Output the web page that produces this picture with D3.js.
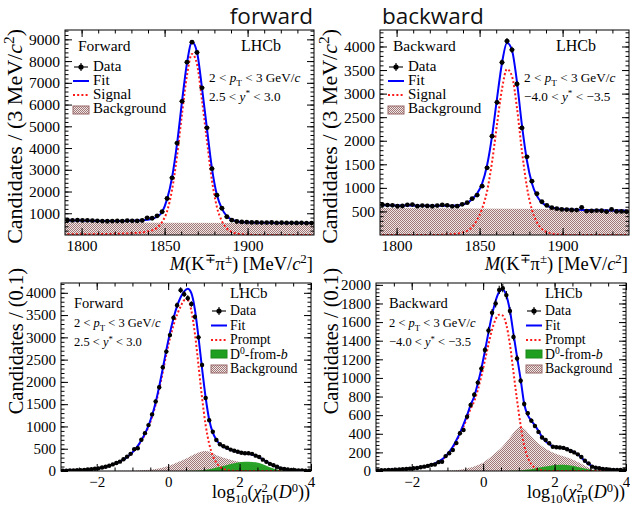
<!DOCTYPE html>
<html><head><meta charset="utf-8">
<script src="https://cdn.jsdelivr.net/npm/d3@7"></script>
<style>body{margin:0;background:#fff} svg{display:block}</style>
</head><body>
<svg id="c" width="630" height="510"></svg>
<script>
// ---------------- DATA ----------------
const massX = [1791.5,1794.5,1797.5,1800.5,1803.5,1806.5,1809.5,1812.5,1815.5,1818.5,1821.5,1824.5,1827.5,1830.5,1833.5,1836.5,1839.5,1842.5,1845.5,1848.5,1851.5,1854.5,1857.5,1860.5,1863.5,1866.5,1869.5,1872.5,1875.5,1878.5,1881.5,1884.5,1887.5,1890.5,1893.5,1896.5,1899.5,1902.5,1905.5,1908.5,1911.5,1914.5,1917.5,1920.5,1923.5,1926.5,1929.5,1932.5,1935.5,1938.5];
const fwdMassData = [680,670,678,668,672,660,650,640,632,640,645,640,660,650,648,668, 790,770,880,1070,1680,2630,4230,6150,7950,8870,8400,6770,4930,3050,1830,1230,840,680, 620,600,590,580,580,570,570,575,560,565,560,560,555,560,550,550];
const fwdMassFit = [668,667,666,664,661,656,650,645,642,642,644,647,651,656,663,675, 700,745,840,1060,1650,2650,4200,6150,7920,8880,8420,6780,4900,3080,1850,1210,870,705, 635,600,585,575,568,564,561,559,557,555,553,552,551,550,549,548];
const fwdMassSig = [30,32,34,36,38,40,42,45,48,52,56,62,70,80,95,120, 160,215,340,600,1090,2090,3640,5590,7360,8330,7860,6220,4340,2520,1290,640,300,140, 65,30,14,6,2,0,0,0,0,0,0,0,0,0,0,0];
const bwdMassData = [640,635,630,610,615,640,645,612,625,618,610,625,638,630,608,612, 650,685,770,847,1037,1425,2096,2816,3663,4114,3930,3204,2272,1658,1143,875,706,628, 579,558,543,540,530,528,586,508,510,518,515,494,543,501,500,495];
const bwdMassFit = [630,629,628,627,626,625,624,623,622,621,620,620,620,620,621,625, 640,680,760,880,1090,1480,2100,2900,3650,4080,3920,3250,2330,1580,1100,830,690,620, 585,565,553,545,540,536,533,530,528,526,524,522,520,519,518,517];
const bwdMassSig = [0,0,0,0,0,0,0,0,0,0,0,0,5,10,18,30, 50,90,170,320,560,930,1550,2350,3100,3520,3370,2700,1780,1020,540,270,130,60, 28,12,5,0,0,0,0,0,0,0,0,0,0,0,0,0];
const massBkgX = [1790,1940];
const fwdMassBkg = [570,548];
const bwdMassBkg = [575,545];

const ipX = [-2.95,-2.85,-2.75,-2.65,-2.55,-2.45,-2.35,-2.25,-2.15,-2.05,-1.95,-1.85,-1.75,-1.65,-1.55,-1.45,-1.35,-1.25,-1.15,-1.05,-0.95,-0.85,-0.75,-0.65,-0.55,-0.45,-0.35,-0.25,-0.15,-0.05,0.05,0.15,0.25,0.35,0.45,0.55,0.65,0.75,0.85,0.95,1.05,1.15,1.25,1.35,1.45,1.55,1.65,1.75,1.85,1.95,2.05,2.15,2.25,2.35,2.45,2.55,2.65,2.75,2.85,2.95,3.05,3.15,3.25,3.35,3.45,3.55,3.65,3.75,3.85,3.95];
const fwdIpData = [5,8,10,12,16,20,25,32,38,52, 60,80,96,118,148,180,210,265,322,385, 490,510,700,850,1030,1270,1560,1880,2330,2680, 3050,3440,3720,4060,3970,3880,3750,3460,3000,2380, 1640,1140,880,695,600,555,523,480,455,433, 410,400,397,385,345,315,255,205,160,130, 95,60,45,32,22,16,14,10,8,6];
const fwdIpFit = [8,10,12,14,17,21,26,32,40,50, 62,77,95,117,143,175,213,258,312,380, 465,565,690,840,1020,1250,1540,1900,2300,2720, 3100,3430,3700,3900,4030,4090,3990,3620,3000,2300, 1650,1150,860,700,600,545,505,475,450,428, 410,396,385,370,345,308,262,213,166,124, 89,63,44,31,22,16,12,9,7,6];
const fwdIpPrompt = [8,10,12,14,17,21,26,32,40,50, 62,77,95,117,143,175,211,255,308,374, 456,553,674,820,993,1215,1494,1840,2222,2620, 2975,3275,3510,3690,3830,3830,3600,3080,2370,1640, 1030,610,345,185,95,45,20,8,3,0, 0,0,0,0,0,0,0,0,0,0, 0,0,0,0,0,0,0,0,0,0];
const bwdIpData = [6,8,9,12,11,14,16,18,22,25, 29,33,40,47,55,66,70,95,100,160, 190,226,300,405,440,584,710,820,950,1100, 1300,1510,1700,1800,1946,1964,1890,1720,1440,1210, 970,720,620,541,484,420,360,333,298,261, 255,252,248,233,215,200,179,150,110,82, 47,35,29,22,18,15,12,11,10,9];
const bwdIpFit = [8,9,10,11,13,15,17,19,22,26, 30,35,41,48,57,68,82,100,125,160, 205,260,330,410,500,600,710,800,940,1100, 1290,1490,1680,1830,1925,1950,1885,1725,1470,1225, 985,720,600,540,490,430,365,318,287,266, 257,252,247,236,220,200,178,145,107,76, 51,37,29,23,18,15,13,12,11,10];
const bwdIpPrompt = [8,9,10,11,13,15,17,19,22,26, 30,35,41,48,57,68,80,97,120,155, 198,250,318,395,478,570,670,750,870,1020, 1190,1360,1520,1630,1680,1670,1570,1360,1060,760, 490,270,145,72,35,15,6,2,0,0, 0,0,0,0,0,0,0,0,0,0, 0,0,0,0,0,0,0,0,0,0];
const ipBkgX = [-1.55,-1.25,-0.95,-0.65,-0.35,-0.05,0.25,0.55,0.75,0.95,1.05,1.15,1.35,1.55,1.75,1.95,2.15,2.35,2.55,2.75,2.95,3.15,3.35,3.55];
const fwdIpBkg = [0,3,8,20,45,100,190,300,380,440,448,435,355,300,252,214,180,150,120,85,50,22,5,0];
const bwdIpBkg = [0,3,6,14,38,80,165,265,360,455,475,455,370,295,240,200,170,146,115,78,37,8,1,0];
const ipBX = [0.45,0.65,0.85,1.05,1.25,1.45,1.65,1.85,2.05,2.25,2.45,2.65,2.85,3.05,3.25,3.45];
const fwdIpB = [0,3,10,28,58,95,135,172,200,207,195,150,85,35,10,0];
const bwdIpB = [0,0,2,6,15,28,42,55,64,66,58,44,26,10,2,0];

const massTicks = [1800,1850,1900];
const ipTicks = [-2,0,2,4];

// ---------------- DRAWING ----------------
const svg = d3.select('#c');
const SERIF = '"Liberation Serif","Times New Roman",serif';
const defs = svg.append('defs');
const pat = defs.append('pattern').attr('id','hatch').attr('width',2).attr('height',2).attr('patternUnits','userSpaceOnUse');
pat.append('rect').attr('width',2).attr('height',2).attr('fill','#f1e6e6');
pat.append('rect').attr('width',1).attr('height',1).attr('fill','#a07878');
pat.append('rect').attr('x',1).attr('y',1).attr('width',1).attr('height',1).attr('fill','#a07878');

function rich(parent, x, y, segs, size, anchor, rot){
  const outer = parent.append('g').attr('transform', `translate(${x},${y})` + (rot ? ` rotate(${rot})` : ''));
  const g = outer.append('g');
  let cx = 0, lastStart = 0;
  segs.forEach(s => {
    const fs = s.s ? size*0.7 : size;
    const dy = s.s === 'sup' ? -0.36*size : (s.s === 'sub' ? 0.28*size : 0);
    const sx = s.stack ? lastStart : cx;
    const el = g.append('text').attr('x', sx).attr('y', dy)
      .attr('font-family', SERIF).attr('font-size', fs)
      .attr('font-style', s.i ? 'italic' : 'normal')
      .attr('xml:space','preserve').style('white-space','pre').attr('fill','#000')
      .text(s.t);
    const w = el.node().getComputedTextLength();
    if (s.stack) cx = Math.max(cx, sx + w); else { lastStart = sx; cx = sx + w; }
  });
  const off = anchor === 'end' ? -cx : (anchor === 'middle' ? -cx/2 : 0);
  g.attr('transform', `translate(${off},0)`);
  return outer;
}

function panel(c){
  const [x0,x1,y0,y1] = c.frame;
  const x = d3.scaleLinear().domain(c.xDomain).range([x0,x1]);
  const y = d3.scaleLinear().domain(c.yDomain).range([y1,y0]);
  const clipId = 'clip' + c.id;
  defs.append('clipPath').attr('id', clipId).append('rect')
    .attr('x', x0).attr('y', y0).attr('width', x1-x0).attr('height', y1-y0);
  const g = svg.append('g');
  const pg = g.append('g').attr('clip-path', `url(#${clipId})`);
  const area = d3.area().x(d => x(d[0])).y0(y(0)).y1(d => y(d[1])).curve(d3.curveMonotoneX);
  const line = d3.line().x(d => x(d[0])).y(d => y(d[1])).curve(d3.curveMonotoneX);
  pg.append('path').datum(d3.zip(c.bkgX, c.bkg)).attr('d', area).attr('fill', 'url(#hatch)');
  if (c.bX) pg.append('path').datum(d3.zip(c.bX, c.b)).attr('d', area).attr('fill', '#1f9f1f').attr('opacity', 0.95);
  pg.append('path').datum(d3.zip(c.cx, c.sig)).attr('d', line).attr('fill','none')
    .attr('stroke', '#ff1a1a').attr('stroke-width', 2).attr('stroke-dasharray', '2,2.2');
  pg.append('path').datum(d3.zip(c.cx, c.fit)).attr('d', line).attr('fill','none')
    .attr('stroke', '#0000ff').attr('stroke-width', 2);
  const pts = pg.append('g');
  c.cx.forEach((m, i) => {
    const v = c.data[i], e = Math.sqrt(v);
    pts.append('line').attr('x1', x(m - c.bw/2)).attr('x2', x(m + c.bw/2)).attr('y1', y(v)).attr('y2', y(v)).attr('stroke','#000').attr('stroke-width',1.1);
    pts.append('line').attr('x1', x(m)).attr('x2', x(m)).attr('y1', y(v - e)).attr('y2', y(v + e)).attr('stroke','#000').attr('stroke-width',1.1);
    pts.append('circle').attr('cx', x(m)).attr('cy', y(v)).attr('r', c.r).attr('fill','#000');
  });
  const styleAxis = (sel, lbl) => {
    sel.select('.domain').remove();
    sel.selectAll('line').attr('stroke','#000').attr('stroke-width',1);
    sel.selectAll('text').attr('font-family', SERIF).attr('font-size', lbl).attr('fill','#000');
  };
  const xMinor = d3.range(c.xDomain[0], c.xDomain[1] + 1e-9, c.xMinor).filter(v => v > c.xDomain[0] + 1e-9 && v < c.xDomain[1] - 1e-9);
  const yMinor = d3.range(0, c.yDomain[1], c.yMinor).filter(v => v > 1e-9);
  const fmt = d3.format('d');
  g.append('g').attr('transform', `translate(0,${y1})`).call(d3.axisBottom(x).tickValues(c.xTicks).tickSize(-7).tickPadding(5).tickFormat(fmt)).call(s => styleAxis(s, c.tickFont));
  g.append('g').attr('transform', `translate(0,${y1})`).call(d3.axisBottom(x).tickValues(xMinor).tickSize(-3.5).tickFormat('')).call(s => styleAxis(s, c.tickFont));
  g.append('g').attr('transform', `translate(0,${y0})`).call(d3.axisTop(x).tickValues(c.xTicks).tickSize(-7).tickFormat('')).call(s => styleAxis(s, c.tickFont));
  g.append('g').attr('transform', `translate(0,${y0})`).call(d3.axisTop(x).tickValues(xMinor).tickSize(-3.5).tickFormat('')).call(s => styleAxis(s, c.tickFont));
  g.append('g').attr('transform', `translate(${x0},0)`).call(d3.axisLeft(y).tickValues(c.yTicks).tickSize(-7).tickPadding(5).tickFormat(fmt)).call(s => styleAxis(s, c.tickFont));
  g.append('g').attr('transform', `translate(${x0},0)`).call(d3.axisLeft(y).tickValues(yMinor).tickSize(-3.5).tickFormat('')).call(s => styleAxis(s, c.tickFont));
  g.append('g').attr('transform', `translate(${x1},0)`).call(d3.axisRight(y).tickValues(c.yTicks).tickSize(-7).tickFormat('')).call(s => styleAxis(s, c.tickFont));
  g.append('g').attr('transform', `translate(${x1},0)`).call(d3.axisRight(y).tickValues(yMinor).tickSize(-3.5).tickFormat('')).call(s => styleAxis(s, c.tickFont));
  g.append('rect').attr('x', x0).attr('y', y0).attr('width', x1-x0).attr('height', y1-y0).attr('fill','none').attr('stroke','#000').attr('stroke-width',1);

  rich(g, c.yTitlePos[0], c.yTitlePos[1], c.yTitle, c.yTitleFont, 'end', -90);
  rich(g, x1 - 1, c.xTitleY, c.xTitle, c.xTitleFont, 'end');
  rich(g, c.tagPos[0], c.tagPos[1], [{t: c.tag}], c.tagFont, 'start');
  rich(g, c.lhcbPos[0], c.lhcbPos[1], [{t: 'LHCb'}], c.lhcbFont, 'start');
  c.notes.forEach(n => rich(g, n.x, n.y, n.segs, c.noteFont, 'start'));
  const L = c.legend;
  L.items.forEach(it => {
    const sx0 = L.sx0, sx1 = L.sx1, sc = (sx0 + sx1)/2;
    if (it.kind === 'data') {
      g.append('line').attr('x1', sx0+1).attr('x2', sx1-1).attr('y1', it.y).attr('y2', it.y).attr('stroke','#000').attr('stroke-width',1.1);
      g.append('line').attr('x1', sc).attr('x2', sc).attr('y1', it.y-4).attr('y2', it.y+4).attr('stroke','#000').attr('stroke-width',1.1);
      g.append('circle').attr('cx', sc).attr('cy', it.y).attr('r', 2.6).attr('fill','#000');
    } else if (it.kind === 'fit') {
      g.append('line').attr('x1', sx0).attr('x2', sx1).attr('y1', it.y).attr('y2', it.y).attr('stroke','#0000ff').attr('stroke-width',2);
    } else if (it.kind === 'sig') {
      g.append('line').attr('x1', sx0).attr('x2', sx1).attr('y1', it.y).attr('y2', it.y).attr('stroke','#ff1a1a').attr('stroke-width',2).attr('stroke-dasharray','2,2.2');
    } else if (it.kind === 'green') {
      g.append('rect').attr('x', sx0).attr('y', it.y-4).attr('width', sx1-sx0).attr('height', 8).attr('fill','#1f9f1f').attr('stroke','#1a8a1a').attr('stroke-width',1);
    } else if (it.kind === 'bkg') {
      g.append('rect').attr('x', sx0).attr('y', it.y-4).attr('width', sx1-sx0).attr('height', 8).attr('fill','url(#hatch)').attr('stroke','#9a6868').attr('stroke-width',1);
    }
    rich(g, L.tx, it.ty, it.segs, L.font, 'start');
  });
}

const pTseg = [{t:'2 < '},{t:'p',i:1},{t:'T',s:'sub'},{t:' < 3 GeV/'},{t:'c',i:1}];
const yFwd = [{t:'2.5 < '},{t:'y',i:1},{t:'*',s:'sup'},{t:' < 3.0'}];
const yBwd = [{t:'\u22124.0 < '},{t:'y',i:1},{t:'*',s:'sup'},{t:' < \u22123.5'}];
const massTitle = [{t:'M',i:1},{t:'(K'},{t:'\u2213',s:'sup'},{t:'\u03c0'},{t:'\u00b1',s:'sup'},{t:') [MeV/'},{t:'c',i:1},{t:'2',s:'sup'},{t:']'}];
const ipTitle = [{t:'log'},{t:'10',s:'sub'},{t:'('},{t:'\u03c7',i:1},{t:'2',s:'sup'},{t:'IP',s:'sub',stack:true},{t:'('},{t:'D',i:1},{t:'0',s:'sup'},{t:'))'}];
const massYTitle = [{t:'Candidates / (3 MeV/'},{t:'c',i:1},{t:'2',s:'sup'},{t:')'}];
const ipYTitle = [{t:'Candidates / (0.1)'}];

function massPanel(id, dx, tag, data, fit, sig, bkg, yMax, yTicks, yMinor, yNote){
  panel({
    id, frame:[65+dx, 314+dx, 30, 235], xDomain:[1790,1940], yDomain:[0,yMax],
    cx: massX, data, fit, sig, bkgX: massBkgX, bkg, bw: 3, r: 2.4,
    xTicks: massTicks, xMinor: 10, yTicks, yMinor, tickFont: 15.5,
    yTitle: massYTitle, yTitlePos:[22+dx, 29], yTitleFont: 22,
    xTitle: massTitle, xTitleY: 270, xTitleFont: 18.5,
    tag, tagPos:[78+dx, 51], tagFont: 15.5, lhcbPos:[241+dx, 51], lhcbFont: 16,
    noteFont: 13.2,
    notes: [{x:209+dx, y:82, segs:pTseg},{x:209+dx, y:101, segs:yNote}],
    legend: {sx0:73+dx, sx1:89+dx, tx:93+dx, font:15, items:[
      {kind:'data', y:67, ty:71, segs:[{t:'Data'}]},
      {kind:'fit', y:81, ty:85, segs:[{t:'Fit'}]},
      {kind:'sig', y:95, ty:99, segs:[{t:'Signal'}]},
      {kind:'bkg', y:110, ty:113, segs:[{t:'Background'}]}
    ]}
  });
}
function ipPanel(id, dx, tag, data, fit, sig, bkg, b, yMax, yTicks, yMinor, yNote){
  panel({
    id, frame:[61+dx, 311+dx, 283, 471], xDomain:[-3,4], yDomain:[0,yMax],
    cx: ipX, data, fit, sig, bkgX: ipBkgX, bkg, bX: ipBX, b, bw: 0.1, r: 2.2,
    xTicks: ipTicks, xMinor: 0.5, yTicks, yMinor, tickFont: 15,
    yTitle: ipYTitle, yTitlePos:[23+dx, 268], yTitleFont: 20.5,
    xTitle: ipTitle, xTitleY: 498, xTitleFont: 18,
    tag, tagPos:[74+dx, 308], tagFont: 14.5, lhcbPos:[230+dx, 298], lhcbFont: 15,
    noteFont: 12.5,
    notes: [{x:74+dx, y:327, segs:pTseg},{x:74+dx, y:346, segs:yNote}],
    legend: {sx0:211+dx, sx1:227+dx, tx:230+dx, font:13.8, items:[
      {kind:'data', y:311, ty:315, segs:[{t:'Data'}]},
      {kind:'fit', y:325.5, ty:329.5, segs:[{t:'Fit'}]},
      {kind:'sig', y:340, ty:344, segs:[{t:'Prompt'}]},
      {kind:'green', y:354, ty:358.5, segs:[{t:'D'},{t:'0',s:'sup'},{t:'-from-'},{t:'b',i:1}]},
      {kind:'bkg', y:369, ty:373, segs:[{t:'Background'}]}
    ]}
  });
}

massPanel('tl', 0, 'Forward', fwdMassData, fwdMassFit, fwdMassSig, fwdMassBkg, 9430, [1000,2000,3000,4000,5000,6000,7000,8000,9000], 200, yFwd);
massPanel('tr', 315, 'Backward', bwdMassData, bwdMassFit, bwdMassSig, bwdMassBkg, 4350, [500,1000,1500,2000,2500,3000,3500,4000], 100, yBwd);
ipPanel('bl', 0, 'Forward', fwdIpData, fwdIpFit, fwdIpPrompt, fwdIpBkg, fwdIpB, 4220, [0,500,1000,1500,2000,2500,3000,3500,4000], 100, yFwd);
ipPanel('br', 315, 'Backward', bwdIpData, bwdIpFit, bwdIpPrompt, bwdIpBkg, bwdIpB, 2020, [0,200,400,600,800,1000,1200,1400,1600,1800,2000], 40, yBwd);

const SANS = '"Open Sans", "DejaVu Sans", sans-serif';
svg.append('text').attr('x', 313).attr('y', 24).attr('text-anchor','end').attr('font-family',SANS).attr('font-size', 22.5).attr('fill','#111').text('forward');
svg.append('text').attr('x', 382).attr('y', 24).attr('text-anchor','start').attr('font-family',SANS).attr('font-size', 22.5).attr('fill','#111').text('backward');
</script>
</body></html>
